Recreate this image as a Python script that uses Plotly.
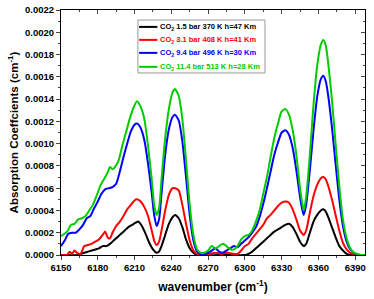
import plotly.graph_objects as go

# ---- data ----
wn_green = [6150,6155,6158,6161,6164,6167,6170,6173,6176,6179,6182,6185,6188,6190,6192,6194,6197,6200,6203,6206,6209,6212,6215,6218,6221,6224,6226,6228,6230,6232,6235,6238,6241,6243,6246,6249,6252,6255,6258,6261,6264,6267,6270,6273,6276,6279,6282,6285,6288,6291,6294,6297,6300,6303,6306,6309,6312,6315,6318,6321,6324,6327,6330,6333,6336,6339,6342,6345,6347,6348,6350,6353,6356,6359,6362,6364,6366,6368,6371,6374,6377,6380,6383,6386,6389,6392,6395,6398]
ab_green = [0.00017,0.00021,0.00027,0.00028,0.00032,0.00033,0.00035,0.00040,0.00045,0.00053,0.00062,0.00068,0.00074,0.00079,0.00077,0.00079,0.00085,0.00098,0.00110,0.00122,0.00132,0.00138,0.00133,0.00122,0.00098,0.00068,0.00045,0.00036,0.00042,0.00068,0.00105,0.00131,0.00146,0.00149,0.00143,0.00122,0.00085,0.00045,0.00018,0.00005,0.00002,0.00002,0.00004,0.00008,0.00006,0.00008,0.00010,0.00008,0.00005,0.00005,0.00008,0.00014,0.00017,0.00018,0.00022,0.00030,0.00040,0.00055,0.00070,0.00088,0.00105,0.00118,0.00129,0.00131,0.00126,0.00112,0.00090,0.00060,0.00045,0.00040,0.00052,0.00090,0.00135,0.00170,0.00189,0.00193,0.00188,0.00172,0.00140,0.00100,0.00062,0.00032,0.00015,0.00006,0.00002,0.00001,0.0,0.0]

wn_blue = [6150,6153,6156,6159,6162,6165,6168,6171,6174,6177,6180,6183,6186,6189,6192,6195,6198,6201,6204,6207,6210,6212,6215,6218,6221,6224,6226,6228,6230,6232,6235,6238,6241,6243,6246,6249,6252,6255,6258,6261,6264,6267,6270,6273,6276,6279,6282,6285,6288,6291,6294,6297,6300,6303,6306,6309,6312,6315,6318,6321,6324,6327,6330,6333,6336,6339,6342,6345,6347,6348,6350,6353,6356,6359,6362,6364,6366,6368,6371,6374,6377,6380,6383,6386,6389,6392,6398]
ab_blue = [0.00008,0.00013,0.00019,0.00020,0.00020,0.00023,0.00027,0.00033,0.00035,0.00042,0.00048,0.00055,0.00059,0.00060,0.00061,0.00064,0.00075,0.00088,0.00100,0.00111,0.00117,0.00118,0.00114,0.00103,0.00082,0.00056,0.00036,0.00026,0.00032,0.00055,0.00090,0.00113,0.00124,0.00126,0.00121,0.00102,0.00070,0.00036,0.00013,0.00003,0.00001,0.00001,0.00002,0.00004,0.00006,0.00003,0.00002,0.00004,0.00006,0.00008,0.00007,0.00010,0.00013,0.00016,0.00020,0.00025,0.00034,0.00046,0.00060,0.00075,0.00090,0.00101,0.00110,0.00112,0.00108,0.00096,0.00076,0.00052,0.00040,0.00036,0.00045,0.00076,0.00112,0.00142,0.00158,0.00161,0.00156,0.00143,0.00115,0.00082,0.00050,0.00026,0.00012,0.00005,0.00002,0.0,0.0]

wn_red = [6150,6155,6157,6159,6161,6163,6166,6169,6172,6175,6178,6181,6184,6186,6188,6190,6192,6195,6198,6201,6204,6207,6210,6212,6215,6218,6221,6224,6226,6228,6230,6232,6235,6238,6241,6243,6246,6249,6252,6255,6258,6261,6266,6271,6276,6281,6286,6291,6294,6297,6300,6303,6306,6309,6312,6315,6318,6321,6324,6327,6330,6333,6336,6339,6342,6345,6347,6348,6350,6353,6356,6359,6362,6364,6366,6368,6371,6374,6377,6380,6383,6386,6389,6392,6398]
ab_red = [0.0,0.0,0.00003,0.00001,0.00004,0.00002,0.00001,0.00008,0.00009,0.00010,0.00012,0.00014,0.00018,0.00021,0.00016,0.00015,0.00020,0.00026,0.00030,0.00035,0.00041,0.00045,0.00049,0.00050,0.00048,0.00043,0.00035,0.00022,0.00013,0.00009,0.00012,0.00022,0.00040,0.00054,0.00060,0.00060,0.00058,0.00045,0.00028,0.00013,0.00004,0.00001,0.00002,0.00001,0.00002,0.00001,0.00002,0.00001,0.00001,0.00004,0.00008,0.00010,0.00015,0.00019,0.00023,0.00027,0.00033,0.00036,0.00040,0.00044,0.00047,0.00048,0.00047,0.00041,0.00032,0.00022,0.00019,0.00018,0.00022,0.00038,0.00053,0.00063,0.00069,0.00070,0.00068,0.00062,0.00050,0.00036,0.00022,0.00011,0.00005,0.00002,0.00001,0.0,0.0]

wn_black = [6150,6164,6166,6169,6172,6175,6178,6181,6184,6187,6190,6193,6196,6199,6202,6205,6208,6211,6213,6216,6219,6222,6225,6228,6230,6232,6235,6238,6241,6243,6246,6249,6252,6255,6258,6261,6280,6300,6303,6306,6309,6312,6315,6318,6321,6324,6327,6330,6333,6336,6339,6342,6345,6347,6348,6350,6353,6356,6359,6362,6364,6366,6368,6371,6374,6377,6380,6383,6386,6398]
ab_black = [0.0,0.0,0.00001,0.00002,0.00003,0.00004,0.00005,0.00006,0.00008,0.00008,0.00010,0.00013,0.00016,0.00019,0.00022,0.00025,0.00027,0.00029,0.00030,0.00026,0.00019,0.00011,0.00005,0.00002,0.00003,0.00008,0.00018,0.00028,0.00034,0.00036,0.00033,0.00025,0.00014,0.00006,0.00002,0.0,0.0,0.0,0.00001,0.00003,0.00006,0.00009,0.00012,0.00015,0.00018,0.00021,0.00023,0.00025,0.00027,0.00028,0.00025,0.00019,0.00012,0.00009,0.00008,0.00010,0.00020,0.00030,0.00036,0.00040,0.00041,0.00039,0.00034,0.00025,0.00016,0.00008,0.00004,0.00001,0.0,0.0]

series_names = [
    "CO<sub>2</sub> 1.5 bar 370 K h=47 Km",
    "CO<sub>2</sub> 3.1 bar 408 K h=41 Km",
    "CO<sub>2</sub> 9.4 bar 496 K h=30 Km",
    "CO<sub>2</sub> 11.4 bar 513 K h=28 Km",
]
series_colors = ["#000000", "#ff0000", "#0000ff", "#00cc00"]
series_x = [wn_black, wn_red, wn_blue, wn_green]
series_y = [ab_black, ab_red, ab_blue, ab_green]

x_ticks = [6150, 6180, 6210, 6240, 6270, 6300, 6330, 6360, 6390]

FONT = "Liberation Sans, Arial, sans-serif"

fig = go.Figure()
for name, col, xs, ys in zip(series_names, series_colors, series_x, series_y):
    fig.add_trace(go.Scatter(
        x=xs, y=ys, mode="lines", line=dict(color=col, width=2, shape="spline", smoothing=0.6),
        name=name, showlegend=False, hoverinfo="skip",
    ))

axis_common = dict(showline=True, linecolor="black", linewidth=1, showgrid=False,
                   zeroline=False, automargin=False)

fig.update_layout(
    width=374, height=299,
    margin=dict(l=61, r=9, t=10, b=44),
    paper_bgcolor="white", plot_bgcolor="white",
    font=dict(family=FONT, size=9, color="black"),
    showlegend=False,
    hovermode=False,
    xaxis=dict(
        range=[6150, 6398], tickvals=x_ticks, ticks="outside", ticklen=4, tickwidth=1,
        minor=dict(ticks="outside", ticklen=2, dtick=15, tick0=6150),
        tickfont=dict(family=FONT, size=9.5, color="black", weight="bold"),
        title=dict(text="<b>wavenumber (cm<sup>-1</sup>)</b>", font=dict(family=FONT, size=12), standoff=10),
        **axis_common,
    ),
    yaxis=dict(
        range=[0, 0.0022], dtick=0.0002, tickformat=".4f", ticks="outside", ticklen=4, tickwidth=1,
        minor=dict(ticks="outside", ticklen=2, dtick=0.0001),
        tickfont=dict(family=FONT, size=9.5, color="black", weight="bold"),
        title=dict(text="<b>Absorption Coeffcients (cm<sup>-1</sup>)</b>", font=dict(family=FONT, size=11.5), standoff=4),
        **axis_common,
    ),
    xaxis2=dict(
        overlaying="x", side="top", range=[6150, 6398], tickvals=x_ticks, ticks="inside", ticklen=4,
        minor=dict(ticks="inside", ticklen=2, dtick=15, tick0=6150),
        showticklabels=False, **axis_common,
    ),
    yaxis2=dict(
        overlaying="y", side="right", range=[0, 0.0022], dtick=0.0002, ticks="inside", ticklen=4,
        minor=dict(ticks="inside", ticklen=2, dtick=0.0001),
        showticklabels=False, **axis_common,
    ),
)

# invisible trace so the mirrored (top/right) axes are drawn
fig.add_trace(go.Scatter(x=[6150], y=[0], xaxis="x2", yaxis="y2", mode="markers",
                         marker=dict(opacity=0), showlegend=False, hoverinfo="skip"))

# ---- legend box drawn in paper coordinates ----
leg_x0, leg_x1 = 0.253, 0.671
leg_y1, leg_y0 = 0.959, 0.743
fig.add_shape(type="rect", xref="paper", yref="paper", x0=leg_x0, x1=leg_x1, y0=leg_y0, y1=leg_y1,
              line=dict(color="#999999", width=1), fillcolor="white", layer="above")
entry_y = [0.931, 0.878, 0.825, 0.768]
for name, col, ey in zip(series_names, series_colors, entry_y):
    fig.add_shape(type="line", xref="paper", yref="paper", x0=0.257, x1=0.317, y0=ey, y1=ey,
                  line=dict(color=col, width=2), layer="above")
    fig.add_annotation(xref="paper", yref="paper", x=0.318, y=ey, xanchor="left", yanchor="middle",
                       text=f"<b>{name}</b>", showarrow=False,
                       font=dict(family=FONT, size=7.5, color=col))

fig.write_html("out.html", config={"displayModeBar": False, "staticPlot": True},
               post_script="document.body.style.margin='0';document.body.style.padding='0';")
